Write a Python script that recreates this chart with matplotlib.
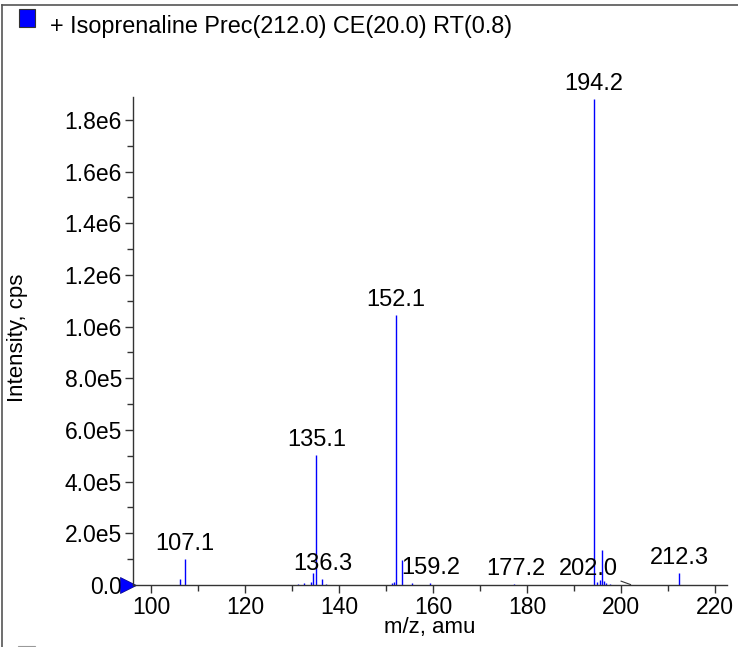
import matplotlib
matplotlib.use("Agg")
import matplotlib.pyplot as plt
from matplotlib.lines import Line2D
from matplotlib.patches import Rectangle
from matplotlib.ticker import MultipleLocator, FuncFormatter
import matplotlib.transforms as mtransforms

plt.rcParams['font.family'] = ['Liberation Sans', 'DejaVu Sans']

# Data (m/z, intensity cps)
mz = [106.2, 107.1, 131.3, 132.5, 133.9, 134.3, 135.1, 136.4, 137.1,
      151.3, 151.7, 152.1, 153.4, 155.5, 159.4, 177.2,
      194.2, 194.9, 195.4, 196.0, 196.4, 196.8, 197.7, 202.0, 212.3]
intensity = [2.3e4, 1.0e5, 5e3, 8e3, 1.2e4, 4.5e4, 5.03e5, 2.3e4, 5e3,
             6e3, 1.0e4, 1.045e6, 9.7e4, 8e3, 6e3, 2e3,
             1.88e6, 1.2e4, 1.8e4, 1.36e5, 1.5e4, 6e3, 5e3, 1.5e3, 4.6e4]

label_mz = [107.1, 135.1, 136.3, 152.1, 159.2, 177.2, 194.2, 212.3]
label_pos = [107.1, 135.1, 136.4, 152.1, 159.4, 177.6, 194.2, 212.3]
label_int = [1.0e5, 5.03e5, 2.3e4, 1.045e6, 6e3, 2e3, 1.88e6, 4.6e4]

title = "+ Isoprenaline Prec(212.0) CE(20.0) RT(0.8)"

W, H = 738, 647
fig = plt.figure(figsize=(W / 100, H / 100), dpi=100)
ax_l, ax_r, ax_t, ax_b = 133, 727, 97, 585
ax = fig.add_axes([ax_l / W, 1 - ax_b / H, (ax_r - ax_l) / W, (ax_b - ax_t) / H])

ax.vlines(mz, 0, intensity, color='#0000ff', lw=1.0)

ax.set_xlim(96.1, 222.5)
ax.set_ylim(0, 1.889e6)

for s in ['top', 'right']:
    ax.spines[s].set_visible(False)
for s in ['left', 'bottom']:
    ax.spines[s].set_color('#333333')
    ax.spines[s].set_linewidth(1.0)

ax.xaxis.set_major_locator(MultipleLocator(20))
ax.xaxis.set_minor_locator(MultipleLocator(10))
ax.yaxis.set_major_locator(MultipleLocator(2e5))
ax.yaxis.set_minor_locator(MultipleLocator(1e5))


def yfmt(v, pos):
    if v == 0:
        return "0.0"
    exp = 0
    m = v
    while m >= 10:
        m /= 10
        exp += 1
    return f"{m:.1f}e{exp}"


ax.yaxis.set_major_formatter(FuncFormatter(yfmt))
ax.tick_params(axis='both', which='major', length=6, width=1, color='#333333',
               labelsize=16.5, pad=2)
ax.tick_params(axis='both', which='minor', length=4, width=1, color='#333333')

fig.text((ax_l + ax_r) / 2 / W, 1 - 628 / H, "m/z, amu", fontsize=16,
         ha='center', va='center')
fig.text(18 / W, 1 - 338 / H, "Intensity, cps", fontsize=16, rotation=90,
         ha='center', va='center')

for lab, xp, yi in zip(label_mz, label_pos, label_int):
    ax.annotate(f"{lab:.1f}", xy=(xp, yi), xytext=(0, 3), textcoords='offset points',
                ha='center', va='bottom', fontsize=17)

# 202.0 label with leader line
ax.annotate("202.0", xy=(202.0, 1.5e3), xytext=(-9, 3), textcoords='offset points',
            ha='right', va='bottom', fontsize=17,
            arrowprops=dict(arrowstyle='-', color='#333333', lw=0.8,
                            shrinkA=0, shrinkB=0))

# blue triangle at zero level
trans = mtransforms.blended_transform_factory(ax.transAxes, ax.transData)
ax.plot([-5 / (ax_r - ax_l)], [0], marker='>', color='#0000ff', ms=11,
        markeredgecolor='#000080', markeredgewidth=0.5,
        transform=trans, clip_on=False)

# Frame lines
fig.add_artist(Line2D([2 / W, 1], [1 - 5 / H, 1 - 5 / H], color='#555555', lw=1.2))
fig.add_artist(Line2D([2 / W, 2 / W], [0, 1 - 5 / H], color='#555555', lw=1.2))

# Legend square and title
fig.add_artist(Rectangle((19 / W, 1 - 27 / H), 16 / W, 18 / H, facecolor='#0000ff',
                         edgecolor='#333333', lw=0.8))
fig.text(50 / W, 1 - 27 / H, title, fontsize=16.8, ha='left', va='center')

# partially visible next-panel square
fig.add_artist(Rectangle((18 / W, 1 - 660 / H), 17 / W, 14 / H, facecolor='none',
                         edgecolor='#999999', lw=0.8))

fig.savefig("out.png", dpi=100)
